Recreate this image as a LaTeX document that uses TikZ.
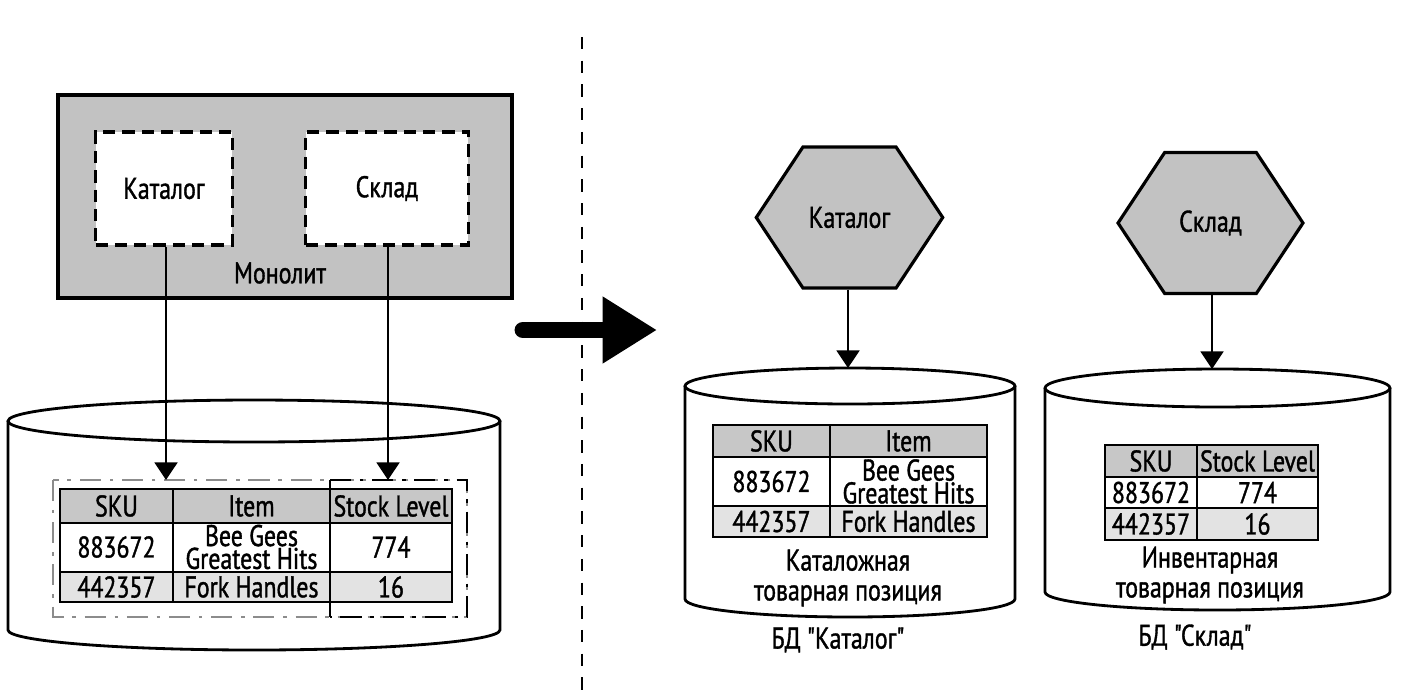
\documentclass[tikz,border=0pt]{standalone}
\usepackage{fontspec}
\setmainfont[FakeStretch=0.8,FakeBold=1.2,Ligatures=TeXOff]{PT Sans}
\usetikzlibrary{shapes.symbols,arrows.meta}

\definecolor{boxgray}{gray}{0.76}
\definecolor{headgray}{gray}{0.78}
\definecolor{rowgray}{gray}{0.89}
\definecolor{framegray}{gray}{0.55}

\begin{document}
\begin{tikzpicture}[x=0.02cm,y=-0.02cm,
    every node/.style={font=\fontsize{17}{20}\selectfont},
    mono/.style={draw,line width=1.8pt,fill=boxgray,minimum width=9.08cm,minimum height=4.06cm},
    module/.style={draw,line width=1.8pt,dash pattern=on 7pt off 4pt,fill=white,minimum height=2.26cm},
    service/.style={signal,signal to=east and west,signal pointer angle=113,draw,line width=1.8pt,
        fill=boxgray,minimum width=3.7cm,minimum height=2.82cm},
    flow/.style={line width=1.3pt,-{Triangle[length=10pt,width=13pt]}},
    grid/.style={line width=1.6pt},
    twoline/.style={align=center,inner sep=0pt,font=\fontsize{17}{13}\selectfont}]
    \useasboundingbox (0,0) rectangle (1402,694);

    % separator and transition arrow
    \draw[line width=1.6pt,dash pattern=on 7pt off 6.5pt] (582,37) -- (582,694);
    \coordinate (from) at (523,330);
    \coordinate (to) at (657,330);
    \draw[line width=9.6pt,line cap=round,-{Triangle[length=31pt,width=36pt]}] (from) -- (to);

    % monolith
    \node[mono] (monolith) at (285,196.5) {};
    \node[module,minimum width=2.74cm] (catbox) at (164,188.5) {Каталог};
    \node[module,minimum width=3.26cm] (stockbox) at (387,188.5) {Склад};
    \node (monolabel) at (280,273) {Монолит};

    % shared database
    \draw[line width=1.6pt,fill=white] (8,421) -- (8,630) arc[start angle=180,end angle=360,x radius=4.92cm,y radius=0.4cm] -- (500,421);
    \draw[line width=1.6pt] (254,421) ellipse [x radius=4.92cm,y radius=0.42cm];
    \fill[headgray] (60,489) rectangle (452,523);
    \fill[rowgray] (60,572) rectangle (452,602);
    \draw[grid] (60,489) rectangle (452,602);
    \draw[grid] (60,523) -- (452,523) (60,572) -- (452,572);
    \draw[grid] (173,489) -- (173,602) (330,489) -- (330,602);
    \node at (116.5,506) {SKU};
    \node at (251.5,506) {Item};
    \node at (391,506) {Stock Level};
    \node at (116.5,547) {883672};
    \node[twoline] at (251.5,547) {Bee Gees\\Greatest Hits};
    \node at (391,547) {774};
    \node at (116.5,587) {442357};
    \node at (251.5,587) {Fork Handles};
    \node at (391,587) {16};
    \draw[framegray,line width=1.1pt,dash pattern=on 12pt off 5pt on 2pt off 5pt] (53,480) rectangle (467,617);
    \draw[line width=1.1pt,dash pattern=on 12pt off 5pt on 2pt off 5pt] (330,480) -- (467,480) -- (467,617) -- (330,617);
    \draw[line width=1.1pt] (330,480) -- (330,617);
    \coordinate (catend) at (166,480);
    \coordinate (stockend) at (388,480);

    \draw[flow] (catbox.south -| catend) -- (catend);
    \draw[flow] (stockbox.south -| stockend) -- (stockend);

    % services
    \node[service] (catalog) at (849.5,217.5) {Каталог};
    \node[service] (stock) at (1210.5,223) {Склад};

    % catalog database
    \draw[line width=1.6pt,fill=white] (685,386) -- (685,599) arc[start angle=180,end angle=360,x radius=3.3cm,y radius=0.36cm] -- (1015,386);
    \draw[line width=1.6pt] (850,386) ellipse [x radius=3.3cm,y radius=0.36cm];
    \coordinate (catdb) at (848,368);
    \fill[headgray] (713,425) rectangle (987,457);
    \fill[rowgray] (713,506) rectangle (987,537);
    \draw[grid] (713,425) rectangle (987,537);
    \draw[grid] (713,457) -- (987,457) (713,506) -- (987,506) (830,425) -- (830,537);
    \node at (771.5,441) {SKU};
    \node at (908.5,441) {Item};
    \node at (771.5,481.5) {883672};
    \node[twoline] at (908.5,481.5) {Bee Gees\\Greatest Hits};
    \node at (771.5,521.5) {442357};
    \node at (908.5,521.5) {Fork Handles};
    \node[align=center,font=\fontsize{17}{17}\selectfont] (catlabel) at (848,578) {Каталожная\\товарная позиция};
    \node (catname) at (838,640) {БД "Каталог"};

    % stock database
    \draw[line width=1.6pt,fill=white] (1045,388) -- (1045,592) arc[start angle=180,end angle=360,x radius=3.45cm,y radius=0.36cm] -- (1390,388);
    \draw[line width=1.6pt] (1217.5,388) ellipse [x radius=3.45cm,y radius=0.38cm];
    \coordinate (stockdb) at (1212,369);
    \fill[headgray] (1105,445) rectangle (1318,477);
    \fill[rowgray] (1105,508) rectangle (1318,540);
    \draw[grid] (1105,445) rectangle (1318,540);
    \draw[grid] (1105,477) -- (1318,477) (1105,508) -- (1318,508) (1197,445) -- (1197,540);
    \node at (1151,461) {SKU};
    \node at (1257.5,461) {Stock Level};
    \node at (1151,492.5) {883672};
    \node at (1257.5,492.5) {774};
    \node at (1151,524) {442357};
    \node at (1257.5,524) {16};
    \node[align=center,font=\fontsize{17}{17}\selectfont] (stocklabel) at (1210,575) {Инвентарная\\товарная позиция};
    \node (stockname) at (1195,637) {БД "Склад"};

    \draw[flow] (catalog.south -| catdb) -- (catdb);
    \draw[flow] (stock.south -| stockdb) -- (stockdb);
\end{tikzpicture}
\end{document}
